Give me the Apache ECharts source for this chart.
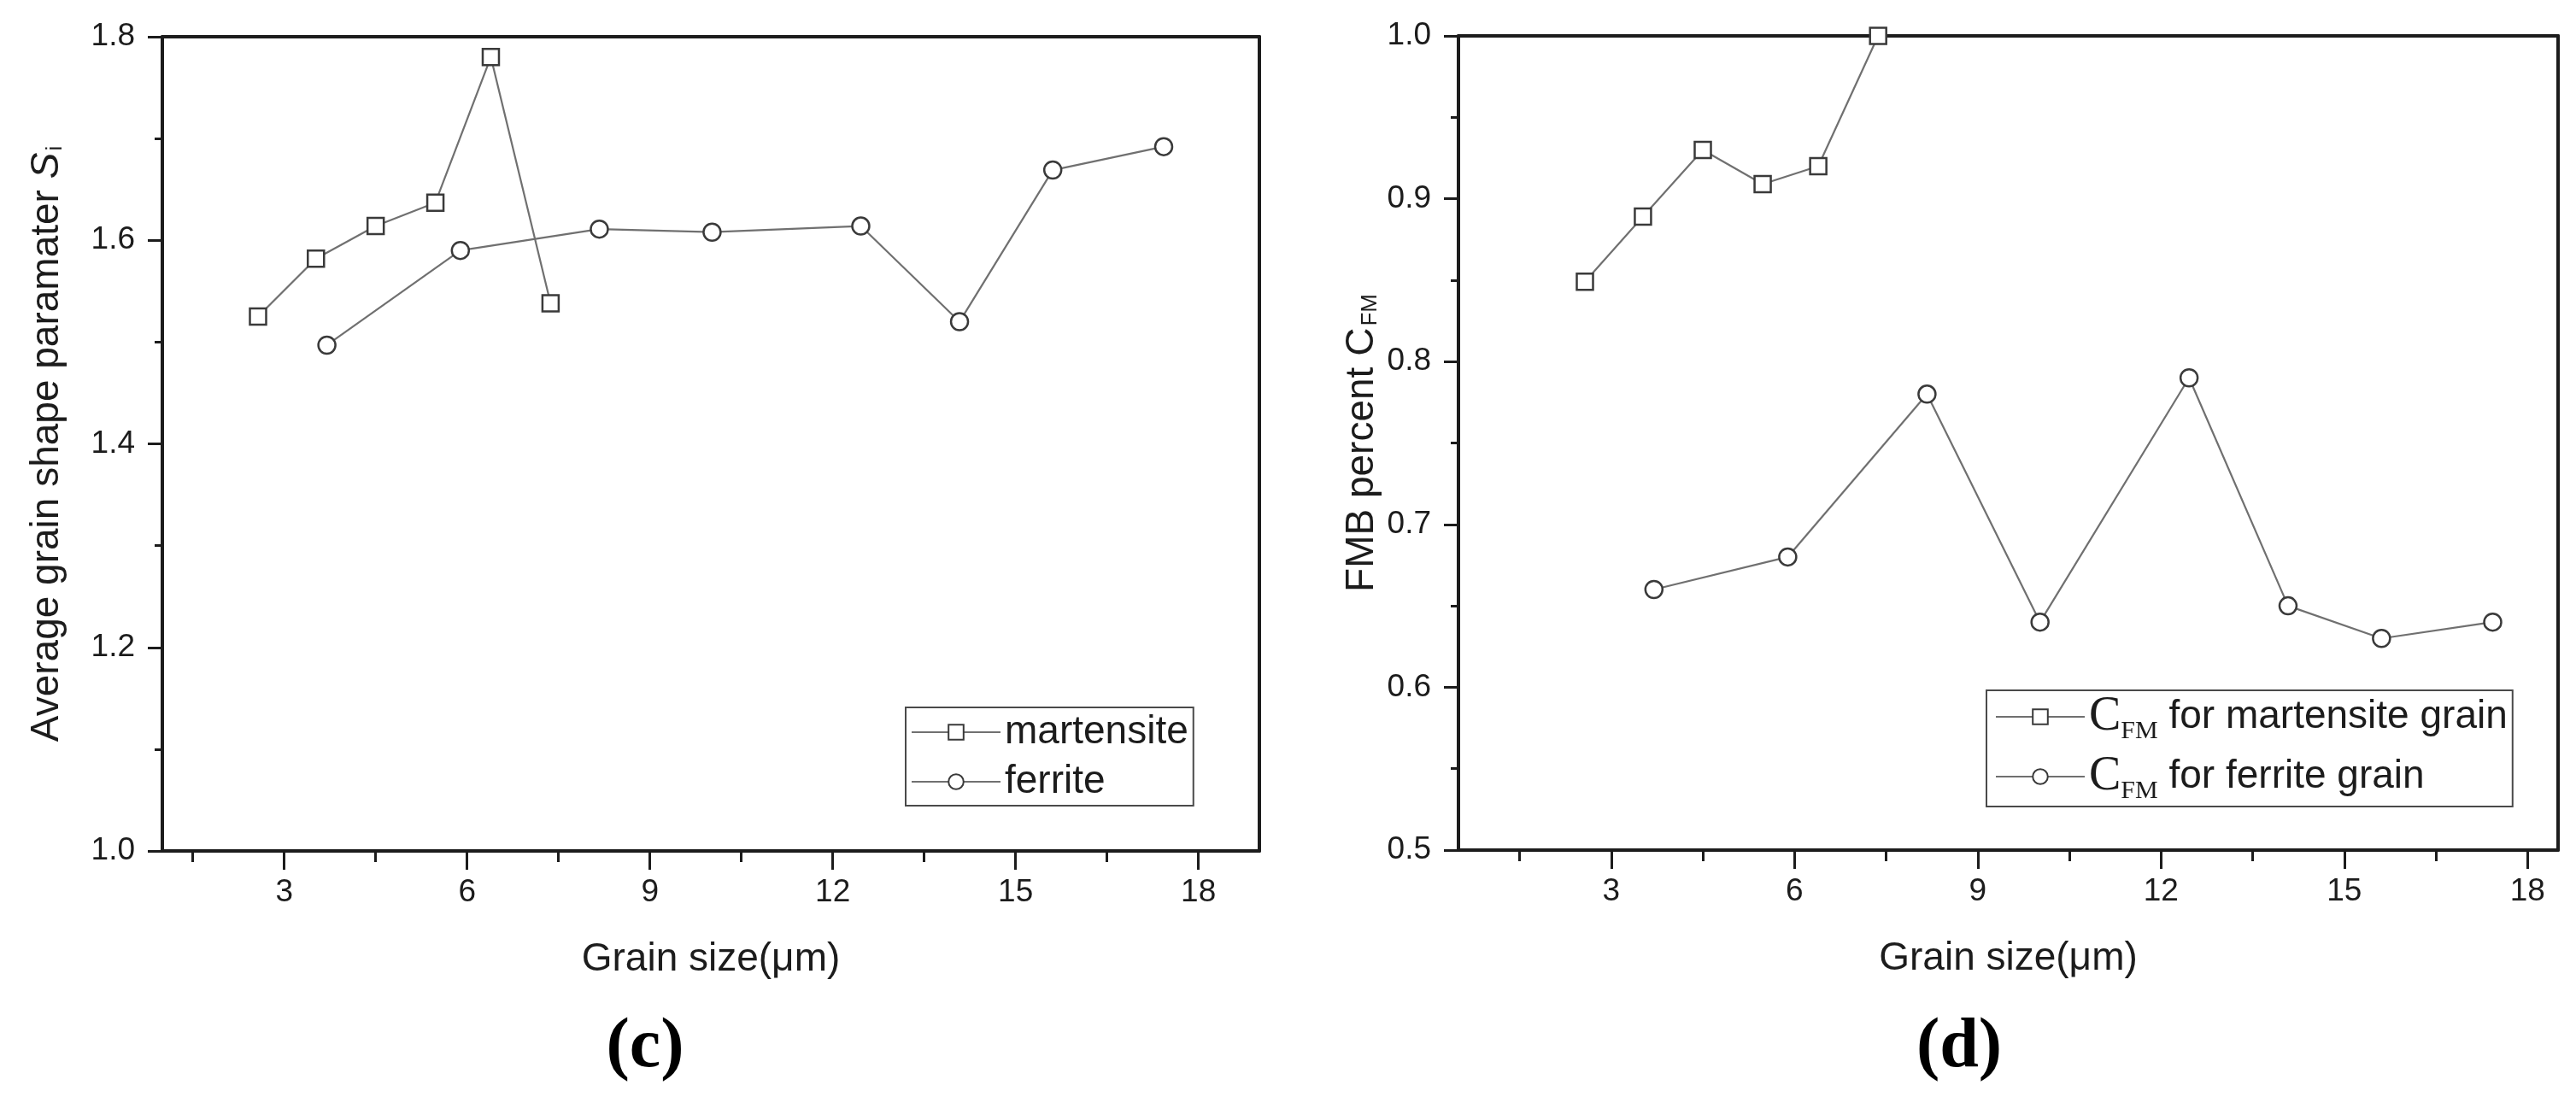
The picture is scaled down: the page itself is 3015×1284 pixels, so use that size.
<!DOCTYPE html>
<html>
<head>
<meta charset="utf-8">
<script src="https://cdn.jsdelivr.net/npm/echarts@6/dist/echarts.min.js"></script>
<style>
  html, body { margin: 0; padding: 0; background: #fff; }
  #main { width: 3015px; height: 1284px; }
</style>
</head>
<body>
<div id="main"></div>
<script type="text/javascript">
    // grain size (um) of each point
    var grainMart = [2.57, 3.52, 4.5, 5.48, 6.39, 7.37];
    var grainFerr = [3.70, 5.89, 8.17, 10.02, 12.46, 14.08, 15.61, 17.43];
    // (c) average grain shape parameter
    var shapeMart = [1.525, 1.582, 1.614, 1.637, 1.780, 1.538];
    var shapeFerr = [1.497, 1.590, 1.611, 1.608, 1.614, 1.520, 1.669, 1.692];
    // (d) FMB percent C_FM
    var cfmMart = [0.849, 0.889, 0.930, 0.909, 0.920, 1.000];
    var cfmFerr = [0.660, 0.680, 0.780, 0.640, 0.790, 0.650, 0.630, 0.640];
    // tick values
    var xMajorTicks = [3, 6, 9, 12, 15, 18];
    var xMinorTicks = [1.5, 4.5, 7.5, 10.5, 13.5, 16.5];

    var sans = 'Liberation Sans';
    var serif = 'Liberation Serif';
    var ink = '#1c1c1c';

    function pairs(xs, ys) {
        var out = [];
        for (var i = 0; i < xs.length; i++) {
            out.push([xs[i], ys[i]]);
        }
        return out;
    }

    function majorX(grid, min, max) {
        return {
            type: 'value', gridIndex: grid, min: min, max: max, position: 'bottom',
            name: 'Grain size(\u03bcm)', nameLocation: 'middle', nameGap: 104,
            nameTextStyle: { fontFamily: sans, fontSize: 46, color: ink },
            axisLine: { show: true, lineStyle: { color: ink, width: 4 } },
            axisTick: { show: true, inside: false, length: 22, customValues: xMajorTicks,
                lineStyle: { color: ink, width: 3 } },
            axisLabel: { show: true, customValues: xMajorTicks, margin: 30,
                fontFamily: sans, fontSize: 37, color: ink },
            splitLine: { show: false }
        };
    }
    function minorX(grid, min, max) {
        return {
            type: 'value', gridIndex: grid, min: min, max: max, position: 'bottom',
            axisLine: { show: false },
            axisTick: { show: true, length: 13, customValues: xMinorTicks,
                lineStyle: { color: ink, width: 3 } },
            axisLabel: { show: false },
            splitLine: { show: false }
        };
    }
    function topX(grid, min, max) {
        return {
            type: 'value', gridIndex: grid, min: min, max: max, position: 'top',
            axisLine: { show: true, lineStyle: { color: ink, width: 4 } },
            axisTick: { show: false }, axisLabel: { show: false }, splitLine: { show: false }
        };
    }
    function leftY(grid, min, max, interval, name, gap) {
        return {
            type: 'value', gridIndex: grid, min: min, max: max, interval: interval, position: 'left',
            name: name, nameLocation: 'middle', nameGap: gap,
            nameTextStyle: {
                fontFamily: sans, fontSize: 46, color: ink,
                rich: {
                    it: { fontFamily: sans, fontSize: 46, fontStyle: 'italic', color: ink },
                    sub: { fontFamily: sans, fontSize: 26, color: ink, verticalAlign: 'bottom', padding: [14, 0, 0, 2] }
                }
            },
            axisLine: { show: true, lineStyle: { color: ink, width: 4 } },
            axisTick: { show: true, length: 17, lineStyle: { color: ink, width: 3 } },
            minorTick: { show: true, splitNumber: 2, length: 9, lineStyle: { color: ink, width: 3 } },
            axisLabel: { margin: 32, fontFamily: sans, fontSize: 37, color: ink,
                formatter: function (v) { return v.toFixed(1); } },
            splitLine: { show: false }
        };
    }
    function rightY(grid, min, max) {
        return {
            type: 'value', gridIndex: grid, min: min, max: max, position: 'right',
            axisLine: { show: true, lineStyle: { color: ink, width: 4 } },
            axisTick: { show: false }, axisLabel: { show: false }, splitLine: { show: false }
        };
    }
    function lineSeries(name, xi, yi, data, symbol) {
        return {
            name: name, type: 'line', xAxisIndex: xi, yAxisIndex: yi,
            data: data, clip: false,
            symbol: symbol, symbolSize: symbol === 'rect' ? 19 : 20,
            lineStyle: { color: '#707070', width: 2.2 },
            itemStyle: { color: '#ffffff', borderColor: '#3a3a3a', borderWidth: 2.5 },
            emphasis: { disabled: true }
        };
    }

    var chart = echarts.init(document.getElementById('main'), null, { renderer: 'canvas' });
    var option = {
        backgroundColor: '#ffffff',
        animation: false,
        title: [
            { text: '(c)', left: 750, top: 1181, textAlign: 'center',
                textStyle: { fontFamily: serif, fontWeight: 'bold', fontSize: 82, color: '#000' } },
            { text: '(d)', left: 2288, top: 1181, textAlign: 'center',
                textStyle: { fontFamily: serif, fontWeight: 'bold', fontSize: 82, color: '#000' } }
        ],
        grid: [
            { left: 190, top: 43, width: 1284, height: 953 },
            { left: 1707, top: 42, width: 1287, height: 953 }
        ],
        legend: [
            {
                orient: 'vertical', left: 1060, top: 828,
                data: ['martensite', 'ferrite'],
                itemWidth: 104, itemHeight: 22, itemGap: 8,
                padding: [4, 6, 3, 6],
                borderColor: '#4a4a4a', borderWidth: 2,
                textStyle: { fontFamily: sans, fontSize: 46, color: ink, lineHeight: 50 }
            },
            {
                orient: 'vertical', left: 2325, top: 808,
                data: ['Cm', 'Cf'],
                itemWidth: 104, itemHeight: 22, itemGap: 10,
                padding: [3, 6, 3, 10],
                borderColor: '#4a4a4a', borderWidth: 2,
                formatter: function (n) {
                    var t = n === 'Cm' ? 'for martensite grain' : 'for ferrite grain';
                    return '{c|C}{sub|FM} {t|' + t + '}';
                },
                textStyle: {
                    fontFamily: sans, fontSize: 46, color: ink,
                    rich: {
                        c: { fontFamily: serif, fontSize: 56, color: ink, lineHeight: 64 },
                        sub: { fontFamily: serif, fontSize: 30, color: ink, verticalAlign: 'bottom', lineHeight: 64 },
                        t: { fontFamily: sans, fontSize: 46, color: ink, lineHeight: 64 }
                    }
                }
            }
        ],
        xAxis: [
            majorX(0, 1, 19), minorX(0, 1, 19), topX(0, 1, 19),
            majorX(1, 0.5, 18.5), minorX(1, 0.5, 18.5), topX(1, 0.5, 18.5)
        ],
        yAxis: [
            leftY(0, 1.0, 1.8, 0.2, 'Average grain shape paramater {it|S}{sub|i}', 112),
            rightY(0, 1.0, 1.8),
            leftY(1, 0.5, 1.0, 0.1, 'FMB percent C{sub|FM}', 90),
            rightY(1, 0.5, 1.0)
        ],
        series: [
            lineSeries('martensite', 0, 0, pairs(grainMart, shapeMart), 'rect'),
            lineSeries('ferrite', 0, 0, pairs(grainFerr, shapeFerr), 'circle'),
            lineSeries('Cm', 3, 2, pairs(grainMart, cfmMart), 'rect'),
            lineSeries('Cf', 3, 2, pairs(grainFerr, cfmFerr), 'circle')
        ]
    };
    chart.setOption(option);
</script>
</body>
</html>
